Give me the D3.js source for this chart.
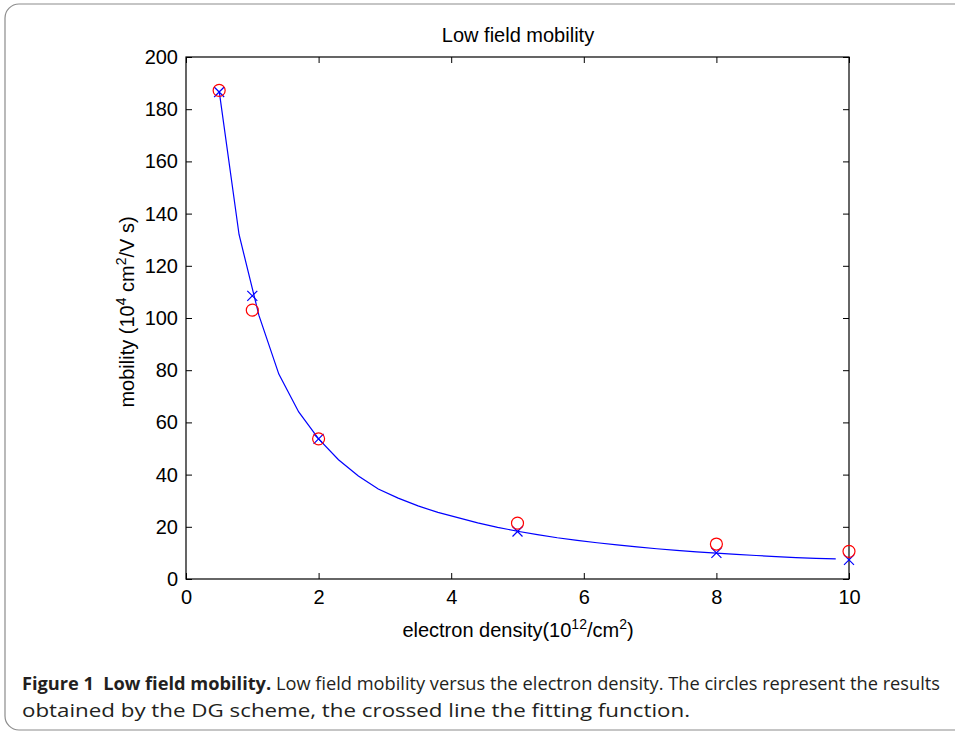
<!DOCTYPE html>
<html>
<head>
<meta charset="utf-8">
<script src="https://cdn.jsdelivr.net/npm/d3@7"></script>
<style>
  body { margin: 0; background: #fff; }
</style>
</head>
<body>
<script>
// Low field mobility figure

// fitting curve, sampled every 0.3
let fitX = [0.5, 0.8, 1.1, 1.4, 1.7, 2.0, 2.3, 2.6, 2.9, 3.2, 3.5, 3.8, 4.1, 4.4, 4.7, 5.0,
  5.3, 5.6, 5.9, 6.2, 6.5, 6.8, 7.1, 7.4, 7.7, 8.0, 8.3, 8.6, 8.9, 9.2, 9.5, 9.8];
let fitY = [187, 132, 101, 78.5, 64, 53.7, 45.7, 39.5, 34.5, 31, 28, 25.5, 23.5, 21.5, 19.8, 18.3,
  17, 15.8, 14.8, 13.9, 13.1, 12.3, 11.6, 11, 10.4, 9.9, 9.4, 9, 8.6, 8.2, 7.9, 7.7];

// DG scheme results (circles) and fitting values (crosses)
let densities = [0.5, 1, 2, 5, 8, 10];
let dgValues = [187.2, 103, 53.7, 21.4, 13.4, 10.6];
let fitValues = [186.6, 108.5, 53.7, 18.2, 10, 7.3];

let xTicks = [0, 2, 4, 6, 8, 10];
let yTicks = [0, 20, 40, 60, 80, 100, 120, 140, 160, 180, 200];

let svg = d3.select("body")
  .append("svg")
  .attr("width", 955)
  .attr("height", 734);

// figure frame
svg.append("rect")
  .attr("x", 5)
  .attr("y", 4)
  .attr("width", 990)
  .attr("height", 726)
  .attr("rx", 14)
  .style("fill", "none")
  .style("stroke", "#8c8c8c")
  .style("stroke-width", 1.2);

let pLeft = 186, pRight = 849, pTop = 57, pBottom = 579;

let x = d3.scaleLinear().domain([0, 10]).range([pLeft, pRight]);
let y = d3.scaleLinear().domain([0, 200]).range([pBottom, pTop]);

let font = "'Liberation Sans', Arial, Helvetica, sans-serif";

// axes, ticks pointing inward
let axisStyle = (g) => {
  g.select(".domain").remove();
  g.selectAll(".tick line").style("stroke", "#000").style("stroke-width", 1);
  g.selectAll(".tick text").style("font-family", font).style("font-size", "20px").style("fill", "#000");
};

svg.append("g")
  .attr("transform", `translate(0,${pBottom})`)
  .call(d3.axisBottom(x).tickValues(xTicks).tickFormat(d3.format("d")).tickSizeInner(-6).tickSizeOuter(0).tickPadding(11))
  .call(axisStyle);
svg.append("g")
  .attr("transform", `translate(0,${pTop})`)
  .call(d3.axisTop(x).tickValues(xTicks).tickFormat("").tickSizeInner(-6).tickSizeOuter(0))
  .call(axisStyle);
svg.append("g")
  .attr("transform", `translate(${pLeft},0)`)
  .call(d3.axisLeft(y).tickValues(yTicks).tickFormat(d3.format("d")).tickSizeInner(-6).tickSizeOuter(0).tickPadding(8))
  .call(axisStyle);
svg.append("g")
  .attr("transform", `translate(${pRight},0)`)
  .call(d3.axisRight(y).tickValues(yTicks).tickFormat("").tickSizeInner(-6).tickSizeOuter(0))
  .call(axisStyle);

// box
svg.append("rect")
  .attr("x", pLeft)
  .attr("y", pTop)
  .attr("width", pRight - pLeft)
  .attr("height", pBottom - pTop)
  .style("fill", "none")
  .style("stroke", "#000")
  .style("stroke-width", 1.2);

// fitting curve
let line = d3.line().x((d, i) => x(fitX[i])).y((d) => y(d));
svg.append("path")
  .attr("d", line(fitY))
  .style("fill", "none")
  .style("stroke", "#0000ff")
  .style("stroke-width", 1.2);

// crosses
let cs = 5;
densities.forEach((d, i) => {
  let cx = x(d), cy = y(fitValues[i]);
  svg.append("path")
    .attr("d", `M${cx - cs},${cy - cs}L${cx + cs},${cy + cs}M${cx - cs},${cy + cs}L${cx + cs},${cy - cs}`)
    .style("stroke", "#0000ff")
    .style("stroke-width", 1.2)
    .style("fill", "none");
});

// circles
svg.selectAll("circle.dg")
  .data(densities)
  .enter()
  .append("circle")
  .attr("class", "dg")
  .attr("cx", (d) => x(d))
  .attr("cy", (d, i) => y(dgValues[i]))
  .attr("r", 6)
  .style("fill", "none")
  .style("stroke", "#ff0000")
  .style("stroke-width", 1.2);

// title
svg.append("text")
  .attr("x", 518)
  .attr("y", 42)
  .attr("text-anchor", "middle")
  .style("font-family", font)
  .style("font-size", "20px")
  .text("Low field mobility");

// x label
let xl = svg.append("text")
  .attr("x", 518)
  .attr("y", 637)
  .attr("text-anchor", "middle")
  .style("font-family", font)
  .style("font-size", "20px");
xl.append("tspan").text("electron density(10");
xl.append("tspan").attr("dy", -8).style("font-size", "14px").text("12");
xl.append("tspan").attr("dy", 8).text("/cm");
xl.append("tspan").attr("dy", -8).style("font-size", "14px").text("2");
xl.append("tspan").attr("dy", 8).text(")");

// y label
let yl = svg.append("text")
  .attr("transform", "translate(134,312) rotate(-90)")
  .attr("text-anchor", "middle")
  .style("font-family", font)
  .style("font-size", "20px");
yl.append("tspan").text("mobility (10");
yl.append("tspan").attr("dy", -8).style("font-size", "14px").text("4");
yl.append("tspan").attr("dy", 8).text(" cm");
yl.append("tspan").attr("dy", -8).style("font-size", "14px").text("2");
yl.append("tspan").attr("dy", 8).text("/V s)");

// caption
let capFont = "'Open Sans', 'Noto Sans', sans-serif";
let c1 = svg.append("text")
  .attr("x", 22)
  .attr("y", 690)
  .attr("textLength", 918)
  .attr("lengthAdjust", "spacingAndGlyphs")
  .style("font-family", capFont)
  .style("font-size", "18px")
  .style("fill", "#231f20");
c1.append("tspan").style("font-weight", "bold").text("Figure 1\u2002Low field mobility.");
c1.append("tspan").text(" Low field mobility versus the electron density. The circles represent the results");

svg.append("text")
  .attr("x", 22)
  .attr("y", 717)
  .attr("textLength", 668)
  .attr("lengthAdjust", "spacingAndGlyphs")
  .style("font-family", capFont)
  .style("font-size", "18px")
  .style("fill", "#231f20")
  .text("obtained by the DG scheme, the crossed line the fitting function.");
</script>
</body>
</html>
